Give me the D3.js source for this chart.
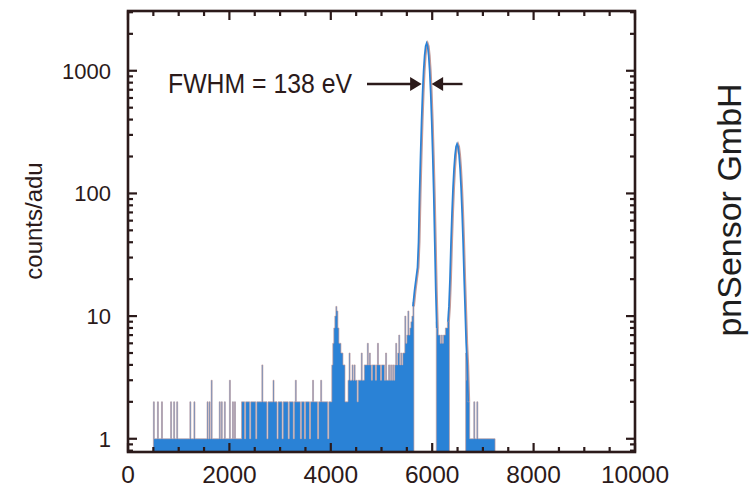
<!DOCTYPE html>
<html>
<head>
<meta charset="utf-8">
<script src="https://cdn.jsdelivr.net/npm/d3@7"></script>
<style>
  html, body { margin: 0; padding: 0; background: #fff; }
  svg { display: block; }
</style>
</head>
<body>
<svg id="chart" width="749" height="487"></svg>
<script>
// ---- spectrum data -------------------------------------------------------
// Histogram channels: 20 eV wide, first channel starts at 500 eV.
// null marks channels inside the two Mn K lines, which are drawn as outlines.
const channelStart = 500;
const channelWidth = 20;
const channelCounts = [
  2,1,1,1,2,1,1,1,2,1,          // 500
  1,1,1,1,1,1,1,2,1,1,          // 700
  2,1,1,2,1,1,1,1,1,1,          // 900
  1,1,1,1,1,1,2,1,1,1,          // 1100
  2,1,1,1,1,1,1,1,1,1,          // 1300
  1,1,1,2,1,2,1,3,1,1,          // 1500
  1,1,1,1,1,2,1,2,1,1,          // 1700
  2,1,1,1,1,3,1,1,2,1,          // 1900
  2,1,1,1,1,1,1,2,2,2,          // 2100
  1,2,2,2,2,1,2,2,2,2,          // 2300
  2,1,2,2,2,2,2,4,2,2,          // 2500
  2,2,1,2,2,2,2,2,3,2,          // 2700
  2,2,1,2,2,2,2,1,2,2,          // 2900
  2,2,2,1,2,2,2,2,1,2,          // 3100
  3,2,2,2,2,1,2,2,2,1,          // 3300
  2,2,2,2,1,2,2,3,2,2,          // 3500
  2,2,1,2,2,3,2,2,2,2,          // 3700
  2,2,1,2,2,2,4,6,8,10,         // 3900
  12,11,8,6,6,5,5,4,4,2,        // 4100
  2,2,3,5,3,3,4,3,4,3,          // 4300
  3,2,3,3,3,5,3,3,4,4,          // 4500
  4,6,4,5,4,3,4,4,4,3,          // 4700
  4,6,4,4,3,4,4,4,3,5,          // 4900
  3,3,4,3,4,3,4,3,4,6,          // 5100
  4,5,7,4,5,4,5,5,10,6,         // 5300
  7,11,7,8,9,10,13,null,null,null,                 // 5500
  null,null,null,null,null,null,null,null,null,null, // 5700
  null,null,null,null,null,null,null,null,null,9,    // 5900
  8,7,7,6,7,6,7,7,8,8,          // 6100
  9,11,null,null,null,null,null,null,null,null,      // 6300
  null,null,null,null,null,null,null,null,5,3,       // 6500
  2,2,1,1,1,1,2,1,1,2,          // 6700
  1,1,1,1,1,1,1,1,1,1,          // 6900
  1,1,1,1,1,1,1                 // 7100
];

// Mn K-alpha line (eV, counts)
const kAlphaEnergy = [5620,5650,5680,5710,5730,5750,5770,5790,5810,5830,5850,5870,5890,
                      5910,5930,5950,5970,5990,6010,6030,6050,6070,6090];
const kAlphaCounts = [12,16,20,25,40,98,205,390,660,995,1330,1585,1680,
                      1585,1330,995,660,390,205,98,40,16,8];

// Mn K-beta line (eV, counts)
const kBetaEnergy = [6310,6330,6350,6370,6390,6410,6430,6450,6470,6490,6510,6530,6550,
                     6570,6590,6610,6630,6650,6670,6690,6710];
const kBetaCounts = [9,12,20,39,69,110,158,205,240,253,240,205,158,
                     110,69,39,20,11,6,4,2];

// Axis ticks
const xTickValues = [0,2000,4000,6000,8000,10000];
const yTickValues = [1,10,100,1000];

// Resolution of the K-alpha line
const fwhmCenter = 5890;
const fwhmWidth = 138;
const fwhmLabel = "FWHM = 138 eV";

// ---- drawing -------------------------------------------------------------
const ink = "#2b1a1a";
const blue = "#2a82d6";
const rose = "#c39a98";

const svg = d3.select("#chart");
const x = d3.scaleLinear().domain([0, 10000]).range([128, 635]);
const y = d3.scaleLog().domain([0.78, 3070]).range([452, 11]);
const [x0, x1] = x.range();
const [yb, yt] = y.range();

const channels = channelCounts.map((v, i) => ({
  e: channelStart + i * channelWidth, v
}));

// step outline of each contiguous run of channels, closed at the baseline
let steps = "";
let open = false;
channels.forEach((d, i) => {
  if (d.v == null) {
    if (open) { steps += `V${yb}Z`; open = false; }
    return;
  }
  if (!open) { steps += `M${x(d.e)},${yb}`; open = true; }
  steps += `V${y(d.v)}H${x(d.e + channelWidth)}`;
  if (i === channels.length - 1) steps += `V${yb}Z`;
});

// filled histogram
svg.append("path")
  .attr("d", steps)
  .attr("fill", blue)
  .attr("stroke", "none");

// thin outline on top of the fill
svg.append("path")
  .attr("d", steps)
  .attr("fill", "none")
  .attr("stroke", rose)
  .attr("stroke-width", 0.8)
  .attr("opacity", 0.85);

// emission lines drawn as outlines
const peakLine = d3.line()
  .x(d => x(d[0]))
  .y(d => y(d[1]));
[[kAlphaEnergy, kAlphaCounts], [kBetaEnergy, kBetaCounts]].forEach(([es, cs]) => {
  const pts = es.map((e, i) => [e, cs[i]]);
  svg.append("path")
    .attr("d", peakLine(pts))
    .attr("fill", "none")
    .attr("stroke", rose)
    .attr("stroke-width", 2)
    .attr("transform", "translate(1,0)");
  svg.append("path")
    .attr("d", peakLine(pts))
    .attr("fill", "none")
    .attr("stroke", blue)
    .attr("stroke-width", 1.7);
});

// frame
svg.append("rect")
  .attr("x", x0).attr("y", yt)
  .attr("width", x1 - x0).attr("height", yb - yt)
  .attr("fill", "none")
  .attr("stroke", ink)
  .attr("stroke-width", 2.6);

// inward ticks on all four sides
const ticks = svg.append("g").attr("stroke", ink).attr("stroke-width", 2.2);
const majorLen = 9, minorLen = 5;
d3.range(0, 10001, 500).forEach(v => {
  const len = v % 2000 === 0 ? majorLen : minorLen;
  ticks.append("line").attr("x1", x(v)).attr("x2", x(v)).attr("y1", yb).attr("y2", yb - len);
  ticks.append("line").attr("x1", x(v)).attr("x2", x(v)).attr("y1", yt).attr("y2", yt + len);
});
const yMinor = [];
[0.1, 1, 10, 100, 1000].forEach(dec => {
  for (let k = 1; k <= 9; k++) {
    const v = dec * k;
    if (v >= y.domain()[0] && v <= y.domain()[1]) yMinor.push(v);
  }
});
yMinor.forEach(v => {
  const len = yTickValues.includes(v) ? majorLen : minorLen;
  ticks.append("line").attr("x1", x0).attr("x2", x0 + len).attr("y1", y(v)).attr("y2", y(v));
  ticks.append("line").attr("x1", x1).attr("x2", x1 - len).attr("y1", y(v)).attr("y2", y(v));
});

// tick labels
svg.append("g")
  .selectAll("text")
  .data(xTickValues)
  .join("text")
  .attr("x", d => x(d))
  .attr("y", 483)
  .attr("text-anchor", "middle")
  .attr("font-family", "Liberation Sans, Arial, sans-serif")
  .attr("font-size", 24.5)
  .attr("fill", ink)
  .text(d => d);

svg.append("g")
  .selectAll("text")
  .data(yTickValues)
  .join("text")
  .attr("x", 111)
  .attr("y", d => y(d) + 8)
  .attr("text-anchor", "end")
  .attr("font-family", "Liberation Sans, Arial, sans-serif")
  .attr("font-size", 22)
  .attr("fill", ink)
  .text(d => d);

// axis title
svg.append("text")
  .attr("transform", "translate(42,221) rotate(-90)")
  .attr("text-anchor", "middle")
  .attr("font-family", "Liberation Sans, Arial, sans-serif")
  .attr("font-size", 24)
  .attr("fill", ink)
  .text("counts/adu");

// FWHM annotation with arrows touching the half-maximum points
const ay = 84;
const leftTip = x(fwhmCenter - fwhmWidth / 2) - 1.5;
const rightTip = x(fwhmCenter + fwhmWidth / 2) + 1.5;
const head = 11.5, half = 7;
svg.append("line").attr("x1", 367).attr("x2", leftTip - head + 1)
  .attr("y1", ay).attr("y2", ay).attr("stroke", ink).attr("stroke-width", 2.4);
svg.append("path")
  .attr("d", `M${leftTip},${ay}L${leftTip - head},${ay - half}L${leftTip - head},${ay + half}Z`)
  .attr("fill", ink);
svg.append("line").attr("x1", rightTip + head - 1).attr("x2", 462.5)
  .attr("y1", ay).attr("y2", ay).attr("stroke", ink).attr("stroke-width", 2.4);
svg.append("path")
  .attr("d", `M${rightTip},${ay}L${rightTip + head},${ay - half}L${rightTip + head},${ay + half}Z`)
  .attr("fill", ink);

svg.append("text")
  .attr("x", 168)
  .attr("y", 92.5)
  .attr("font-family", "Liberation Sans, Arial, sans-serif")
  .attr("font-size", 27)
  .attr("textLength", 184)
  .attr("lengthAdjust", "spacingAndGlyphs")
  .attr("fill", ink)
  .text(fwhmLabel);

// vendor credit along the right edge
svg.append("text")
  .attr("transform", "translate(741,210) rotate(-90)")
  .attr("text-anchor", "middle")
  .attr("font-family", "Liberation Sans, Arial, sans-serif")
  .attr("font-size", 34)
  .attr("fill", "#1e1e1e")
  .text("pnSensor GmbH");
</script>
</body>
</html>
